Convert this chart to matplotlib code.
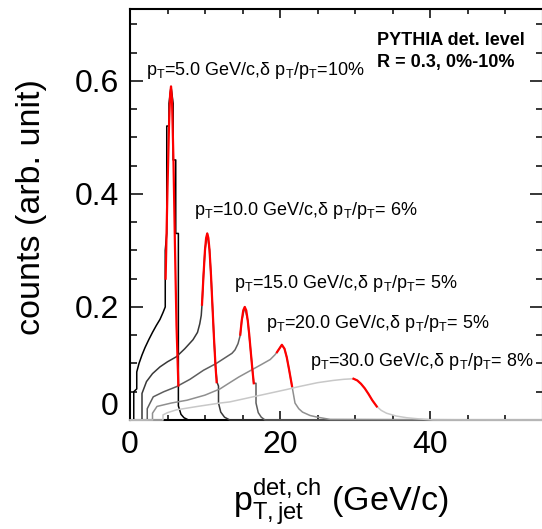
import matplotlib
matplotlib.use("Agg")
import matplotlib.pyplot as plt
import matplotlib.transforms as mtransforms
from matplotlib.ticker import FixedLocator, MultipleLocator

plt.rcParams["font.family"] = ["Liberation Sans", "DejaVu Sans"]
plt.rcParams["mathtext.fontset"] = "custom"
plt.rcParams["mathtext.rm"] = "Liberation Sans"
plt.rcParams["mathtext.it"] = "Liberation Sans"
plt.rcParams["mathtext.bf"] = "Liberation Sans:bold"

# particle-level jet pT and quoted resolution (%)
pt_true = [5.0, 10.0, 15.0, 20.0, 30.0]
resolution_pct = [10, 6, 5, 5, 8]

# detector-level distributions (outline points, GeV/c vs counts)
hist5_x = [0, 0.5, 0.5, 0.9, 0.9, 1.2, 1.6, 2.0, 2.5, 3.0, 3.5, 4.0, 4.4, 4.7, 4.7,
           4.9, 4.9, 5.2, 5.2, 5.47, 5.75, 5.75, 6.1, 6.1, 6.45, 6.45, 6.8, 7.2, 7.8, 55]
hist5_y = [0, 0, 0.05, 0.055, 0.085, 0.1, 0.115, 0.128, 0.142, 0.155, 0.167, 0.178, 0.19,
           0.2, 0.3, 0.33, 0.52, 0.52, 0.56, 0.59, 0.56, 0.46, 0.46, 0.33, 0.33, 0.025,
           0.01, 0.004, 0, 0]

hist10_x = [0, 1.6, 1.6, 2.2, 3.0, 4.0, 5.0, 6.2, 7.3, 8.4, 9.0, 9.3, 9.5, 9.6, 9.8, 10.0,
            10.3, 10.6, 10.8, 11.0, 11.2, 11.4, 11.6, 11.8, 11.8, 12.1, 12.6, 13.3, 55]
hist10_y = [0, 0, 0.047, 0.068, 0.082, 0.094, 0.103, 0.112, 0.126, 0.142, 0.155, 0.17, 0.185,
            0.204, 0.256, 0.301, 0.33, 0.301, 0.256, 0.2, 0.144, 0.096, 0.067, 0.06, 0.03,
            0.014, 0.005, 0, 0]

hist15_x = [0, 2.3, 2.3, 2.6, 3.1, 4.5, 6.2, 8.0, 9.8, 11.5, 12.9, 13.6, 14.0, 14.4, 14.7,
            14.9, 15.3, 15.7, 16.1, 16.5, 16.8, 16.8, 17.1, 17.5, 18.0, 55]
hist15_y = [0, 0, 0.02, 0.028, 0.041, 0.05, 0.059, 0.072, 0.088, 0.1, 0.112, 0.118, 0.124,
            0.135, 0.15, 0.176, 0.2, 0.176, 0.121, 0.065, 0.065, 0.03, 0.013, 0.005, 0, 0]

hist20_x = [0, 3.0, 3.0, 3.6, 5.5, 7.6, 10.0, 12.0, 13.3, 14.5, 16.0, 17.5, 18.7, 19.3, 19.6,
            19.9, 20.25, 20.6, 20.9, 21.2, 21.6, 22.0, 22.5, 23.0, 24.0, 25.0, 26.7, 55]
hist20_y = [0, 0, 0.012, 0.024, 0.03, 0.035, 0.044, 0.055, 0.066, 0.076, 0.087, 0.098, 0.107,
            0.115, 0.12, 0.126, 0.133, 0.126, 0.111, 0.09, 0.06, 0.03, 0.02, 0.014, 0.008,
            0.005, 0.001, 0]

hist30_x = [0, 4.4, 4.4, 5.0, 6.2, 9.0, 12.0, 13.3, 16.4, 17.8, 20.9, 22.5, 25.0, 27.1, 28.5,
            29.8, 30.3, 30.8, 31.3, 31.8, 32.3, 32.9, 33.5, 34.2, 35.5, 36.9, 38.5, 40.4, 55]
hist30_y = [0, 0, 0.009, 0.013, 0.018, 0.024, 0.03, 0.032, 0.041, 0.045, 0.054, 0.059, 0.066,
            0.07, 0.072, 0.073, 0.070, 0.064, 0.056, 0.046, 0.035, 0.024, 0.017, 0.012, 0.007,
            0.004, 0.002, 0.0, 0]

# Gaussian fits around each peak
fit5_x = [4.75, 5.0, 5.2, 5.35, 5.47, 5.6, 5.8, 6.0, 6.2, 6.45]
fit5_y = [0.25, 0.41, 0.52, 0.576, 0.59, 0.567, 0.456, 0.304, 0.167, 0.061]
fit10_x = [9.6, 9.8, 10.0, 10.15, 10.3, 10.45, 10.6, 10.8, 11.0, 11.2, 11.4, 11.55]
fit10_y = [0.204, 0.256, 0.301, 0.322, 0.33, 0.322, 0.301, 0.256, 0.2, 0.144, 0.096, 0.067]
fit15_x = [14.7, 14.9, 15.1, 15.3, 15.5, 15.7, 15.9, 16.1, 16.3, 16.5]
fit15_y = [0.151, 0.176, 0.194, 0.2, 0.194, 0.176, 0.151, 0.121, 0.092, 0.065]
fit20_x = [19.6, 19.9, 20.25, 20.6, 20.9, 21.2, 21.6]
fit20_y = [0.12, 0.126, 0.133, 0.126, 0.111, 0.09, 0.06]
fit30_x = [29.8, 30.3, 30.8, 31.3, 31.8, 32.3, 32.9]
fit30_y = [0.073, 0.070, 0.064, 0.056, 0.046, 0.035, 0.024]

hists = [(hist5_x, hist5_y), (hist10_x, hist10_y), (hist15_x, hist15_y),
         (hist20_x, hist20_y), (hist30_x, hist30_y)]
fits = [(fit5_x, fit5_y), (fit10_x, fit10_y), (fit15_x, fit15_y),
        (fit20_x, fit20_y), (fit30_x, fit30_y)]
colors = ["#000000", "#383838", "#5e5e5e", "#8f8f8f", "#c8c8c8"]

W, H = 542, 529
fig = plt.figure(figsize=(W / 100, H / 100), dpi=100)
ax = fig.add_axes([130 / W, (H - 420) / H, 412.5 / W, 411 / H])
ax.set_xlim(0, 55)
ax.set_ylim(0, 0.727)

for (hx, hy), c in zip(hists, colors):
    ax.plot(hx, hy, color=c, lw=1.1, zorder=3, clip_on=False)
for fx, fy in fits:
    ax.plot(fx, fy, color="#ff0000", lw=1.6, zorder=4)

# labels next to each peak (left edge, baseline)
label_pos = [(2.13, 0.611), (8.5, 0.363), (13.8, 0.234), (18.2, 0.163), (24.0, 0.096)]
for pt, r, (lx, ly) in zip(pt_true, resolution_pct, label_pos):
    s = f"p$_\\mathregular{{T}}$={pt:.1f} GeV/c,δ p$_\\mathregular{{T}}$/p$_\\mathregular{{T}}$={r:2d}%"
    ax.text(lx, ly, s, fontsize=13, ha="left", va="baseline", zorder=5)

fig.text(376.7 / W, 1 - 45 / H, "PYTHIA det. level", fontsize=13, fontweight="bold",
         ha="left", va="baseline")
fig.text(376.7 / W, 1 - 67 / H, "R = 0.3, 0%-10%", fontsize=13, fontweight="bold",
         ha="left", va="baseline")

# axes styling
for sp in ax.spines.values():
    sp.set_linewidth(1.5)
    sp.set_zorder(2)

ax.xaxis.set_major_locator(FixedLocator([0, 20, 40]))
ax.xaxis.set_minor_locator(MultipleLocator(5))
ax.yaxis.set_major_locator(FixedLocator([0, 0.2, 0.4, 0.6]))
ax.yaxis.set_minor_locator(MultipleLocator(0.05))
ax.set_xticklabels(["0", "20", "40"])
ax.set_yticklabels(["", "0.2", "0.4", "0.6"])

ax.tick_params(axis="x", which="major", direction="in", length=6.5, width=1.1,
               top=True, labelsize=23, pad=7)
ax.tick_params(axis="x", which="minor", direction="in", length=3.6, width=1.1, top=True)
ax.tick_params(axis="y", which="major", direction="in", length=9.4, width=1.1,
               right=True, labelsize=23, pad=8)
ax.tick_params(axis="y", which="minor", direction="in", length=5, width=1.1, right=True)

# zero label on the y axis sits slightly above its tick
trans = mtransforms.blended_transform_factory(ax.transAxes, ax.transData)
trans = trans + mtransforms.ScaledTranslation(0, 13 / 100, fig.dpi_scale_trans)
ax.text(-12 / 412.5, 0, "0", transform=trans, fontsize=23, ha="right", va="center")

fig.text(31.7 / W, 1 - 207 / H, "counts (arb. unit)", fontsize=24.5, rotation=90,
         ha="center", va="center")
fig.text(341 / W, 1 - 511 / H,
         "p$_\\mathregular{T,jet}^\\mathregular{det,ch}$ (GeV/c)", fontsize=24.5,
         ha="center", va="baseline")

fig.savefig("out.png", dpi=100)
